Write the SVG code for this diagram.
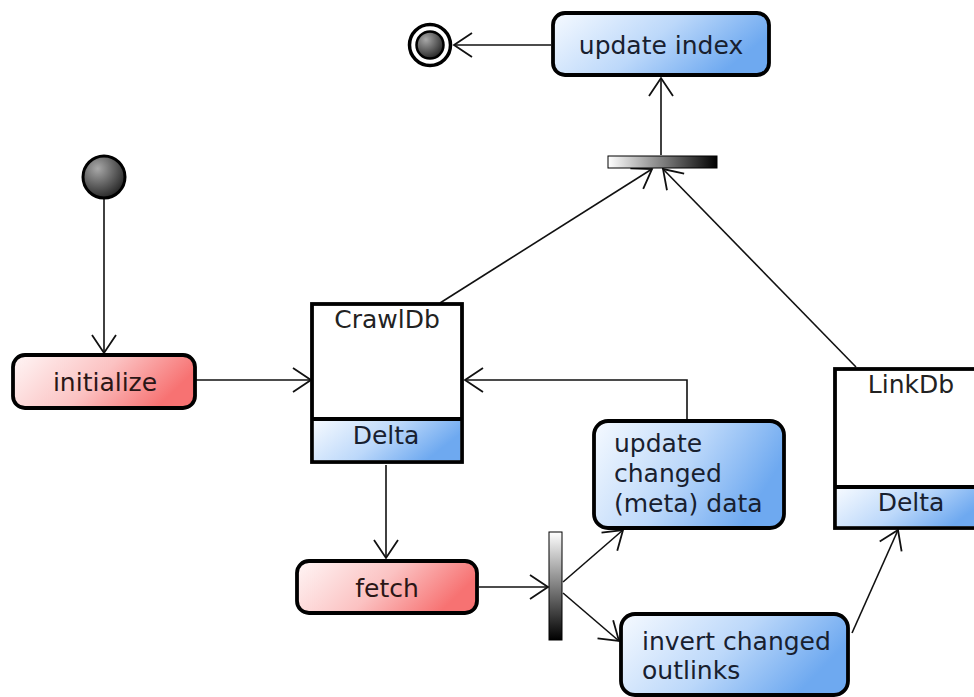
<svg xmlns="http://www.w3.org/2000/svg" width="974" height="697" viewBox="0 0 974 697">
  <style>
    .node { stroke: #000; stroke-width: 3.8; }
    .lbl { font-family: "DejaVu Sans", "Liberation Sans", sans-serif; font-size: 25px; }
    .blueTxt { fill: #18202f; }
    .redTxt { fill: #2a1616; }
    .edge { fill: none; stroke: #111; stroke-width: 1.6; }
  </style>
  <defs>
    <linearGradient id="gBlue" x1="0" y1="0" x2="1" y2="0.35">
      <stop offset="0" stop-color="#f6faff"/>
      <stop offset="0.55" stop-color="#bcd8fa"/>
      <stop offset="1" stop-color="#6ea9f0"/>
    </linearGradient>
    <linearGradient id="gRed" x1="0" y1="0" x2="1" y2="0.3">
      <stop offset="0" stop-color="#fff6f6"/>
      <stop offset="0.55" stop-color="#fbc2c2"/>
      <stop offset="1" stop-color="#f77272"/>
    </linearGradient>
    <linearGradient id="gBarH" x1="0" y1="0" x2="1" y2="0">
      <stop offset="0" stop-color="#ffffff"/>
      <stop offset="1" stop-color="#000000"/>
    </linearGradient>
    <linearGradient id="gBarV" x1="0" y1="0" x2="0" y2="1">
      <stop offset="0" stop-color="#ffffff"/>
      <stop offset="1" stop-color="#000000"/>
    </linearGradient>
    <radialGradient id="gBall" cx="0.35" cy="0.3" r="0.8">
      <stop offset="0" stop-color="#a8a8a8"/>
      <stop offset="1" stop-color="#1a1a1a"/>
    </radialGradient>
    <marker id="open" markerUnits="userSpaceOnUse" markerWidth="40" markerHeight="40" refX="0" refY="0" viewBox="-20 -20 40 40" orient="auto" overflow="visible">
      <path d="M-18,-12 L0,0 L-18,12" fill="none" stroke="#111" stroke-width="1.8"/>
    </marker>
  </defs>

  <!-- connectors -->
  <g id="connectors">
    <line class="edge" x1="104" y1="199" x2="104" y2="353" marker-end="url(#open)"/>
    <line class="edge" x1="196" y1="380" x2="311" y2="380" marker-end="url(#open)"/>
    <polyline class="edge" points="687,419 687,380 465,380" marker-end="url(#open)"/>
    <line class="edge" x1="386" y1="465" x2="386" y2="558" marker-end="url(#open)"/>
    <line class="edge" x1="479" y1="587" x2="548" y2="587" marker-end="url(#open)"/>
    <line class="edge" x1="563" y1="582" x2="623" y2="530" marker-end="url(#open)"/>
    <line class="edge" x1="563" y1="593" x2="619" y2="641" marker-end="url(#open)"/>
    <line class="edge" x1="852" y1="633" x2="898" y2="530" marker-end="url(#open)"/>
    <line class="edge" x1="440" y1="303" x2="652" y2="169" marker-end="url(#open)"/>
    <line class="edge" x1="856" y1="367" x2="663" y2="169" marker-end="url(#open)"/>
    <line class="edge" x1="661" y1="155" x2="661" y2="78" marker-end="url(#open)"/>
    <line class="edge" x1="551" y1="45" x2="454" y2="45" marker-end="url(#open)"/>
  </g>

  <!-- start -->
  <g id="start">
    <circle cx="104" cy="177" r="21" fill="url(#gBall)" stroke="#000" stroke-width="3"/>
  </g>

  <!-- end -->
  <g id="end">
    <circle cx="430" cy="45" r="20.5" fill="#fff" stroke="#000" stroke-width="3.5"/>
    <circle cx="430" cy="45" r="13.5" fill="url(#gBall)" stroke="#000" stroke-width="2.5"/>
  </g>

  <g id="initialize">
    <rect class="node" x="13" y="355" width="182" height="53" rx="12" fill="url(#gRed)"/>
    <text class="lbl redTxt" x="105" y="391" text-anchor="middle">initialize</text>
  </g>

  <g id="crawldb">
    <rect class="node" x="312" y="304" width="150" height="158" fill="#fff"/>
    <rect x="313.9" y="420" width="146.2" height="40.1" fill="url(#gBlue)"/>
    <line x1="312" y1="419" x2="462" y2="419" stroke="#000" stroke-width="3.8"/>
    <text class="lbl" x="387" y="328" text-anchor="middle" fill="#222">CrawlDb</text>
    <text class="lbl blueTxt" x="386" y="444" text-anchor="middle">Delta</text>
  </g>

  <g id="fetch">
    <rect class="node" x="297" y="561" width="180" height="52" rx="12" fill="url(#gRed)"/>
    <text class="lbl redTxt" x="387" y="597" text-anchor="middle">fetch</text>
  </g>

  <g id="fork">
    <rect x="549" y="532" width="13" height="108" fill="url(#gBarV)" stroke="#000" stroke-width="1"/>
  </g>

  <g id="update-changed">
    <rect class="node" x="594" y="421" width="190" height="107" rx="14" fill="url(#gBlue)"/>
    <text class="lbl blueTxt" x="614" y="452">update</text>
    <text class="lbl blueTxt" x="614" y="482">changed</text>
    <text class="lbl blueTxt" x="614" y="512">(meta) data</text>
  </g>

  <g id="invert-outlinks">
    <rect class="node" x="621" y="614" width="227" height="81" rx="14" fill="url(#gBlue)"/>
    <text class="lbl blueTxt" x="642" y="650">invert changed</text>
    <text class="lbl blueTxt" x="642" y="679">outlinks</text>
  </g>

  <g id="linkdb">
    <rect class="node" x="835" y="369" width="152" height="159" fill="#fff"/>
    <rect x="836.9" y="488" width="148.2" height="38.1" fill="url(#gBlue)"/>
    <line x1="835" y1="487" x2="987" y2="487" stroke="#000" stroke-width="3.8"/>
    <text class="lbl" x="911" y="393" text-anchor="middle" fill="#222">LinkDb</text>
    <text class="lbl blueTxt" x="911" y="511" text-anchor="middle">Delta</text>
  </g>

  <g id="join">
    <rect x="608" y="156" width="109" height="12" fill="url(#gBarH)" stroke="#000" stroke-width="1"/>
  </g>

  <g id="update-index">
    <rect class="node" x="553" y="13" width="216" height="62" rx="12" fill="url(#gBlue)"/>
    <text class="lbl blueTxt" x="661" y="54" text-anchor="middle">update index</text>
  </g>
</svg>
